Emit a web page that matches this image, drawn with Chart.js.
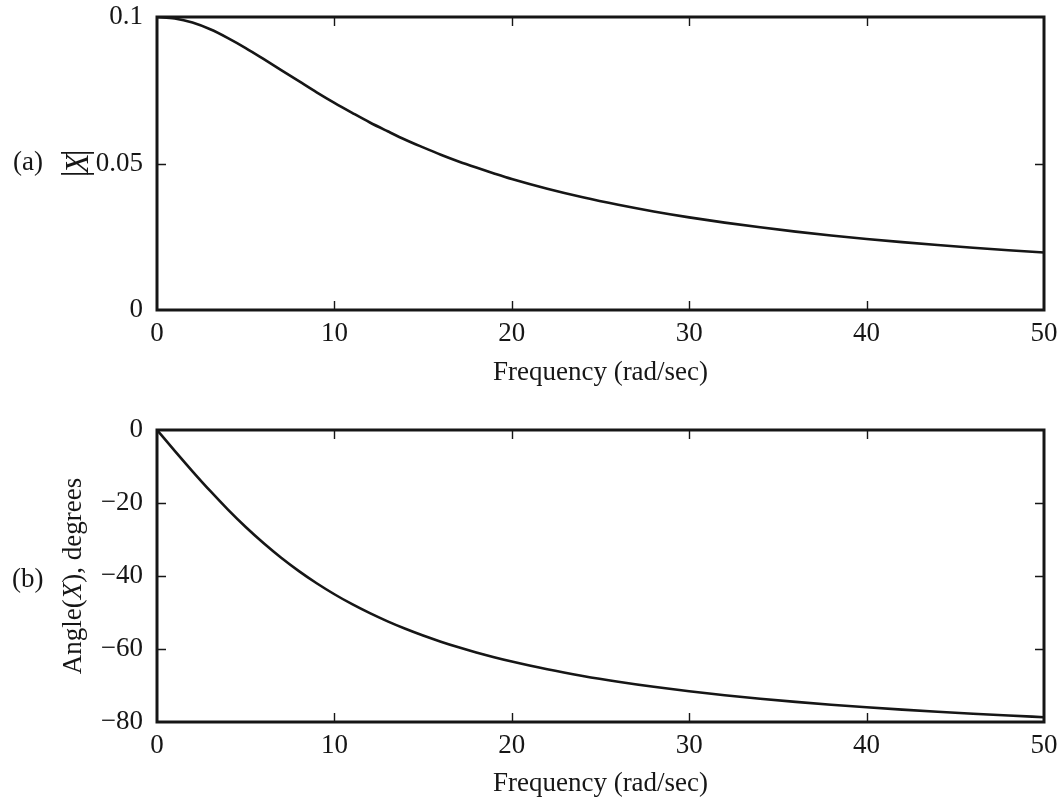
<!DOCTYPE html>
<html><head><meta charset="utf-8">
<script src="https://cdn.jsdelivr.net/npm/chart.js@4.4.1/dist/chart.umd.min.js"></script>
<style>
html,body{margin:0;padding:0;background:#fff;}
#wrap{position:relative;width:1062px;height:801px;overflow:hidden;}
canvas{position:absolute;left:0;}
</style>
</head><body>
<div id="wrap">
<canvas id="c1" width="1062" height="400" style="top:0px"></canvas>
<canvas id="c2" width="1062" height="401" style="top:400px"></canvas>
</div>
<script>
// ---- data ----
const frequency = [0,1,2,3,4,5,6,7,8,9,10,11,12,13,14,15,16,17,18,19,20,22,24,26,28,30,32,34,36,38,40,42,44,46,48,50];
const magnitude = [0.1000,0.0995,0.0981,0.0958,0.0928,0.0894,0.0857,0.0819,0.0781,0.0743,0.0707,0.0673,0.0640,0.0610,0.0581,0.0555,0.0530,0.0507,0.0486,0.0466,0.0447,0.04138,0.03846,0.03590,0.03363,0.03162,0.02983,0.02822,0.02676,0.02545,0.02425,0.02316,0.02216,0.02124,0.02040,0.01961];
const angleDeg = [0,-5.71,-11.31,-16.70,-21.80,-26.57,-30.96,-34.99,-38.66,-41.99,-45.00,-47.73,-50.19,-52.43,-54.46,-56.31,-57.99,-59.53,-60.95,-62.24,-63.43,-65.56,-67.38,-68.96,-70.35,-71.57,-72.65,-73.61,-74.48,-75.26,-75.96,-76.61,-77.20,-77.74,-78.23,-78.69];
const xTickValues = [0,10,20,30,40,50];
const xTickLabels = ['0','10','20','30','40','50'];
const magTickValues = [0,0.05,0.1];
const magTickLabels = ['0','0.05','0.1'];
const angleTickValues = [-80,-60,-40,-20,0];
const angleTickLabels = ['\u221280','\u221260','\u221240','\u221220','0'];
const xTitle = 'Frequency (rad/sec)';

const INK = '#161616';
const FONT = '"Liberation Serif","Times New Roman",Times,serif';
const FS = 27;

function pts(xs, ys){ return xs.map((x,i)=>({x:x, y:ys[i]})); }

function drawMixed(ctx, parts, cx, cy, rot){
  ctx.save();
  ctx.translate(cx, cy);
  ctx.rotate(rot);
  ctx.textBaseline = 'alphabetic';
  ctx.textAlign = 'left';
  let total = 0;
  parts.forEach(p=>{ ctx.font = (p.italic?'italic ':'') + FS + 'px ' + FONT; p.w = ctx.measureText(p.t).width; total += p.w; });
  let x = -total/2;
  parts.forEach(p=>{ ctx.font = (p.italic?'italic ':'') + FS + 'px ' + FONT; ctx.fillText(p.t, x, 0); x += p.w; });
  ctx.restore();
}

function framePlugin(extra){
  return {
    id: 'frame',
    afterDraw(chart){
      const {ctx, chartArea:a} = chart;
      const xs = chart.scales.x, ys = chart.scales.y;
      ctx.save();
      ctx.strokeStyle = INK;
      ctx.lineWidth = 1.4;
      ctx.beginPath();
      xs.ticks.forEach(t=>{
        if (t.value <= xs.min || t.value >= xs.max) return;
        const px = Math.round(xs.getPixelForValue(t.value)) + 0.5;
        ctx.moveTo(px, a.bottom); ctx.lineTo(px, a.bottom - 9);
        ctx.moveTo(px, a.top); ctx.lineTo(px, a.top + 9);
      });
      ys.ticks.forEach(t=>{
        if (t.value <= ys.min || t.value >= ys.max) return;
        const py = Math.round(ys.getPixelForValue(t.value)) + 0.5;
        ctx.moveTo(a.left, py); ctx.lineTo(a.left + 9, py);
        ctx.moveTo(a.right, py); ctx.lineTo(a.right - 9, py);
      });
      ctx.stroke();
      ctx.lineWidth = 3;
      ctx.strokeRect(a.left, a.top, a.right - a.left, a.bottom - a.top);
      ctx.fillStyle = INK;
      extra(ctx, chart);
      ctx.restore();
    }
  };
}

function makeChart(id, yVals, yMin, yMax, yTickVals, yTickLbls, padTop, xAxisH, titlePadB, extra){
  return new Chart(document.getElementById(id), {
    type: 'line',
    data: { datasets: [{ data: pts(frequency, yVals), borderColor: INK, borderWidth: 2.6, pointRadius: 0, cubicInterpolationMode: 'monotone', fill: false }] },
    options: {
      responsive: false, animation: false,
      layout: { padding: { left: 0, right: 18, top: padTop, bottom: 0 } },
      plugins: { legend: { display: false }, tooltip: { enabled: false } },
      scales: {
        x: {
          type: 'linear', min: 0, max: 50,
          afterBuildTicks(s){ s.ticks = xTickValues.map(v=>({value:v})); },
          afterFit(s){ s.height = xAxisH; s.paddingLeft = 0; s.paddingRight = 0; },
          grid: { display: false, drawTicks: false },
          border: { display: false },
          ticks: { padding: 8, color: INK, font: { family: FONT, size: FS }, maxRotation: 0, autoSkip: false,
                   callback: (v, i) => xTickLabels[i] },
          title: { display: true, text: xTitle, color: INK, font: { family: FONT, size: FS }, padding: { top: 0, bottom: titlePadB } }
        },
        y: {
          type: 'linear', min: yMin, max: yMax,
          afterBuildTicks(s){ s.ticks = yTickVals.map(v=>({value:v})); },
          afterFit(s){ s.width = 157; s.paddingTop = 0; s.paddingBottom = 0; },
          grid: { display: false, drawTicks: false },
          border: { display: false },
          ticks: { padding: 14, color: INK, font: { family: FONT, size: FS }, autoSkip: false,
                   callback: (v, i) => yTickLbls[i] }
        }
      }
    },
    plugins: [framePlugin(extra)]
  });
}

makeChart('c1', magnitude, 0, 0.1, magTickValues, magTickLabels, 17, 90, 11, (ctx, chart)=>{
  ctx.font = FS + 'px ' + FONT;
  ctx.textAlign = 'left'; ctx.textBaseline = 'alphabetic';
  ctx.fillText('(a)', 13, 170);
  const a = chart.chartArea;
  const cy = (a.top + a.bottom) / 2;
  // rotated |X| label: bars and italic X
  ctx.save();
  ctx.translate(0, cy);
  ctx.rotate(-Math.PI/2);
  ctx.textAlign = 'center'; ctx.textBaseline = 'alphabetic';
  ctx.font = '36px ' + FONT;
  ctx.fillText('|', -10.5, 86);
  ctx.fillText('|', 10.5, 86);
  ctx.font = 'italic 33px ' + FONT;
  ctx.fillText('X', 0, 88);
  ctx.restore();
});

makeChart('c2', angleDeg, -80, 0, angleTickValues, angleTickLabels, 30, 79, 1, (ctx, chart)=>{
  ctx.font = FS + 'px ' + FONT;
  ctx.textAlign = 'left'; ctx.textBaseline = 'alphabetic';
  ctx.fillText('(b)', 12, 187);
  const a = chart.chartArea;
  drawMixed(ctx, [{t:'Angle('},{t:'X',italic:true},{t:'), degrees'}], 81, (a.top + a.bottom)/2, -Math.PI/2);
});
</script>
</body></html>
